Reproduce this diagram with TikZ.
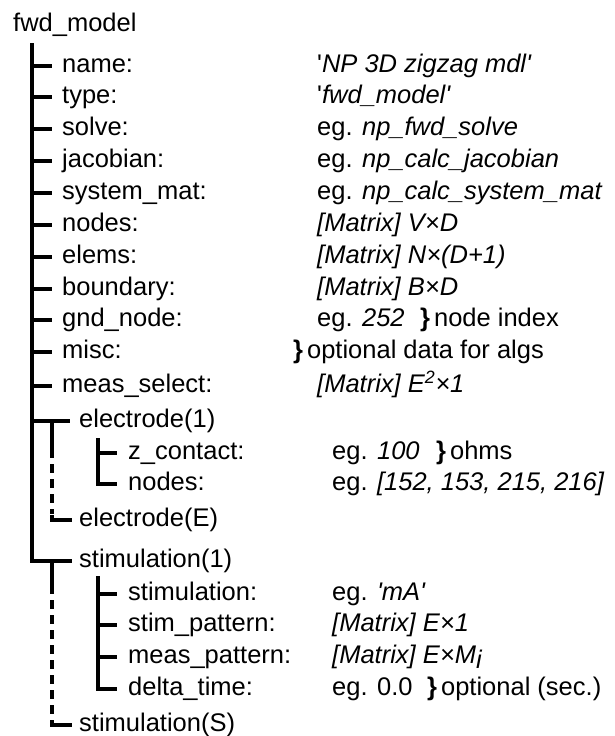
\documentclass[tikz,border=0pt]{standalone}
\usepackage{fontspec}
\setmainfont{Liberation Sans}
\tikzset{
  field/.style={anchor=west, inner sep=0pt, text height=18.4pt, text depth=5.4pt,
    font=\fontsize{25.5}{30}\selectfont},
  tree/.style={draw=black, line width=4.4pt},
  treedash/.style={tree, dash pattern=on 9pt off 6pt},
}
\newcommand{\closebr}[1]{\textbf{\}}\hspace{4pt}#1}

\begin{document}
\begin{tikzpicture}[x=1pt, y=-1pt]
  \useasboundingbox (0,0) rectangle (614,736);

  % root and first level
  \node[field] (root) at (13,25) {fwd\_model};
  \node[field] (name) at (62,66) {name:};
  \node[field] (type) at (62,97) {type:};
  \node[field] (solve) at (62,129) {solve:};
  \node[field] (jacob) at (62,161) {jacobian:};
  \node[field] (sysmat) at (62,193) {system\_mat:};
  \node[field] (nodes) at (62,225) {nodes:};
  \node[field] (elems) at (62,257) {elems:};
  \node[field] (bndry) at (62,289) {boundary:};
  \node[field] (gnd) at (62,320) {gnd\_node:};
  \node[field] (misc) at (62,352) {misc:};
  \node[field] (mselect) at (62,386) {meas\_select:};
  \node[field] (elec1) at (79,421) {electrode(1)};
  \node[field] (elecE) at (79,520) {electrode(E)};
  \node[field] (stim1) at (79,561) {stimulation(1)};
  \node[field] (stimS) at (79,725) {stimulation(S)};

  % second level
  \node[field] (zcont) at (128,453) {z\_contact:};
  \node[field] (enodes) at (128,484) {nodes:};
  \node[field] (stimfld) at (128,594) {stimulation:};
  \node[field] (stimpat) at (128,625) {stim\_pattern:};
  \node[field] (measpat) at (128,657) {meas\_pattern:};
  \node[field] (dtime) at (128,689) {delta\_time:};

  % values
  \node[field] (nameval) at (317,66) {\textquotesingle\textit{NP 3D zigzag mdl\textquotesingle}};
  \node[field] (typeval) at (317,97) {\textquotesingle\textit{fwd\_model\textquotesingle}};
  \node[field] (solveval) at (317,129) {eg. \textit{np\_fwd\_solve}};
  \node[field] (jacobval) at (317,161) {eg. \textit{np\_calc\_jacobian}};
  \node[field] (sysmatval) at (317,193) {eg. \textit{np\_calc\_system\_mat}};
  \node[field] (nodesval) at (317,225) {\textit{[Matrix] V×D}};
  \node[field] (elemsval) at (317,257) {\textit{[Matrix] N×(D+1)}};
  \node[field] (bndryval) at (317,289) {\textit{[Matrix] B×D}};
  \node[field] (gndval) at (317,320) {eg. \textit{252}};
  \node[field] (gndnote) at (420,320) {\closebr{node index}};
  \node[field] (miscnote) at (293,352) {\closebr{optional data for algs}};
  \node[field] (mselectval) at (317,386) {\textit{[Matrix] E\textsuperscript{2}×1}};
  \node[field] (zcontval) at (332,453) {eg. \textit{100}};
  \node[field] (zcontnote) at (436,453) {\closebr{ohms}};
  \node[field] (enodesval) at (332,484) {eg. \textit{[152, 153, 215, 216]}};
  \node[field] (stimfldval) at (332,594) {eg. \textit{\textquotesingle mA\textquotesingle}};
  \node[field] (stimpatval) at (332,625) {\textit{[Matrix] E×1}};
  \node[field] (measpatval) at (332,657) {\textit{[Matrix] E×M\raisebox{-0.4ex}{i}}};
  \node[field] (dtimeval) at (332,689) {eg. 0.0};
  \node[field] (dtimenote) at (427,689) {\closebr{optional (sec.)}};

  % tree lines
  \coordinate (trunk) at (32,43);
  \coordinate (efork) at (52,449);
  \coordinate (sfork) at (52,585);
  \coordinate (etrunk) at (98,438);
  \coordinate (strunk) at (98,576);

  \draw[tree, shorten >=7pt] (trunk) |- (stim1.west);
  \foreach \n in {name,type,solve,jacob,sysmat,nodes,elems,bndry,gnd,misc,mselect}
    \draw[tree, shorten >=10pt] (trunk |- \n.west) -- (\n.west);
  \draw[tree, shorten >=9pt] (trunk |- elec1.west) -- (elec1.west);

  % electrode branch
  \draw[tree] (efork |- elec1.west) -- (efork);
  \draw[treedash] (efork) -- ([yshift=6pt]efork |- elecE.west);
  \draw[tree, shorten >=7pt] ([yshift=5pt]efork |- elecE.west) |- (elecE.west);
  \draw[tree, shorten >=11pt] (etrunk) |- (enodes.west);
  \draw[tree, shorten >=11pt] (etrunk |- zcont.west) -- (zcont.west);

  % stimulation branch
  \draw[tree] (sfork |- stim1.west) -- (sfork);
  \draw[treedash] (sfork) -- ([yshift=6pt]sfork |- stimS.west);
  \draw[tree, shorten >=7pt] ([yshift=5pt]sfork |- stimS.west) |- (stimS.west);
  \draw[tree, shorten >=11pt] (strunk) |- (dtime.west);
  \foreach \n in {stimfld,stimpat,measpat}
    \draw[tree, shorten >=11pt] (strunk |- \n.west) -- (\n.west);
\end{tikzpicture}
\end{document}
